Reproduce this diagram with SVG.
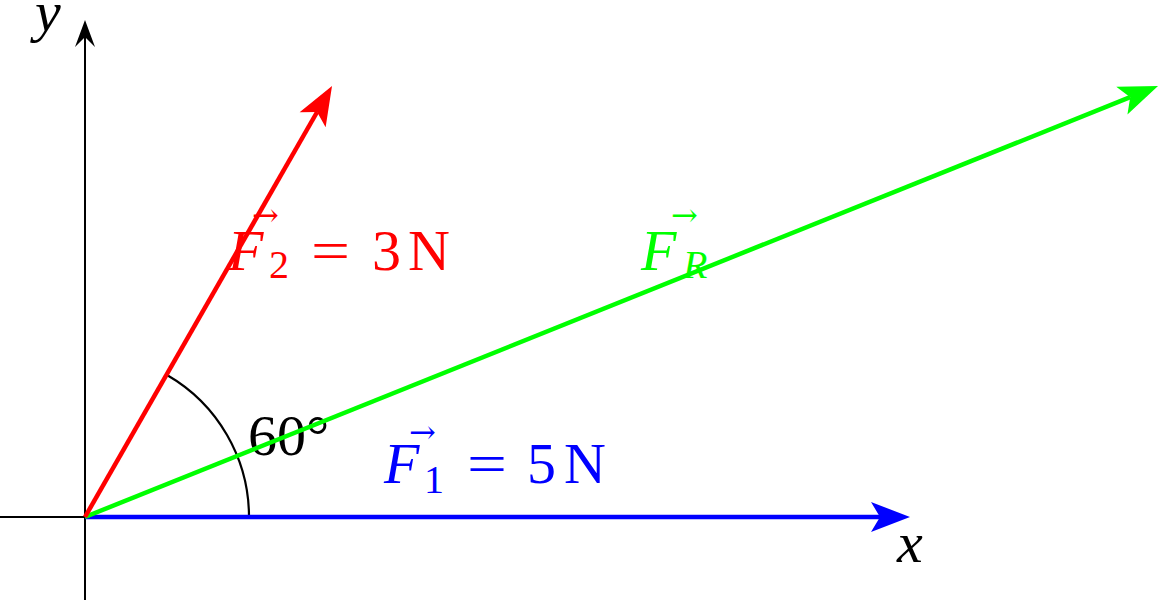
<svg xmlns="http://www.w3.org/2000/svg" width="1159" height="600" viewBox="0 0 1159 600">
<style>
.axis{stroke:#000;stroke-width:2;fill:none}
.arc{stroke:#000;stroke-width:2.2;fill:none}
.vec{fill:none;stroke-width:4.5}
.m{font-family:"Liberation Serif","Times New Roman",serif;font-size:58px}
.i{font-style:italic}
.sub{font-family:"Liberation Serif","Times New Roman",serif;font-size:40px}
.acc{font-family:"DejaVu Serif",serif;font-size:32px;font-style:normal}
</style>
<defs>
<marker id="ha" markerUnits="userSpaceOnUse" viewBox="-11 -11 30 22" refX="0" refY="0" markerWidth="30" markerHeight="22" orient="auto" overflow="visible">
<path d="M17,0 L-10,-10 L0,0 L-10,10 Z" fill="#000"/>
</marker>
<marker id="hb" markerUnits="userSpaceOnUse" viewBox="-10 -16 42 32" refX="0" refY="0" markerWidth="42" markerHeight="32" orient="auto" overflow="visible">
<path d="M30,0 L-9,-15 L0,0 L-9,15 Z" fill="#0000ff"/>
</marker>
<marker id="hr" markerUnits="userSpaceOnUse" viewBox="-10 -16 42 32" refX="0" refY="0" markerWidth="42" markerHeight="32" orient="auto" overflow="visible">
<path d="M30,0 L-9,-15 L0,0 L-9,15 Z" fill="#ff0000"/>
</marker>
<marker id="hg" markerUnits="userSpaceOnUse" viewBox="-10 -16 42 32" refX="0" refY="0" markerWidth="42" markerHeight="32" orient="auto" overflow="visible">
<path d="M30,0 L-9,-15 L0,0 L-9,15 Z" fill="#00ff00"/>
</marker>
</defs>
<g id="axes">
<line class="axis" x1="0" y1="517" x2="895" y2="517"/>
<line class="axis" x1="85" y1="600" x2="85" y2="37" marker-end="url(#ha)"/>
<text class="m i" x="897" y="562">x</text>
<text class="m i" x="35" y="31" font-size="48">y</text>
</g>
<g id="angle">
<path class="arc" d="M85,517 L249,517 A164,164 0 0 0 167,375"/>
<text class="m" x="248" y="455">60°</text>
</g>
<g id="connectors">
<line id="F1" class="vec" stroke="#0000ff" stroke-width="5" x1="85" y1="517" x2="880" y2="517" marker-end="url(#hb)"/>
<line id="FR" class="vec" stroke="#00ff00" x1="85" y1="517" x2="1130.2" y2="97.2" marker-end="url(#hg)"/>
<line id="F2" class="vec" stroke="#ff0000" x1="85" y1="517" x2="317.1" y2="112" marker-end="url(#hr)"/>
</g>
<g id="label-F2" fill="#ff0000">
<text class="m i" x="228" y="270">F<tspan class="acc" x="252" y="226">→</tspan><tspan class="sub" font-style="normal" x="269" y="278">2</tspan></text>
<text class="m" x="311" y="270" textLength="39" lengthAdjust="spacingAndGlyphs">=</text>
<text class="m" x="372" y="270">3</text>
<text class="m" x="408" y="270">N</text>
</g>
<g id="label-F1" fill="#0000ff">
<text class="m i" x="384" y="483">F<tspan class="acc" x="409" y="443">→</tspan><tspan class="sub" font-style="normal" x="424" y="493">1</tspan></text>
<text class="m" x="467" y="483" textLength="40" lengthAdjust="spacingAndGlyphs">=</text>
<text class="m" x="527" y="483">5</text>
<text class="m" x="564" y="483">N</text>
</g>
<g id="label-FR" fill="#00ff00">
<text class="m i" x="641" y="270">F<tspan class="acc" x="671" y="226">→</tspan><tspan class="sub" x="683" y="278">R</tspan></text>
</g>
</svg>
